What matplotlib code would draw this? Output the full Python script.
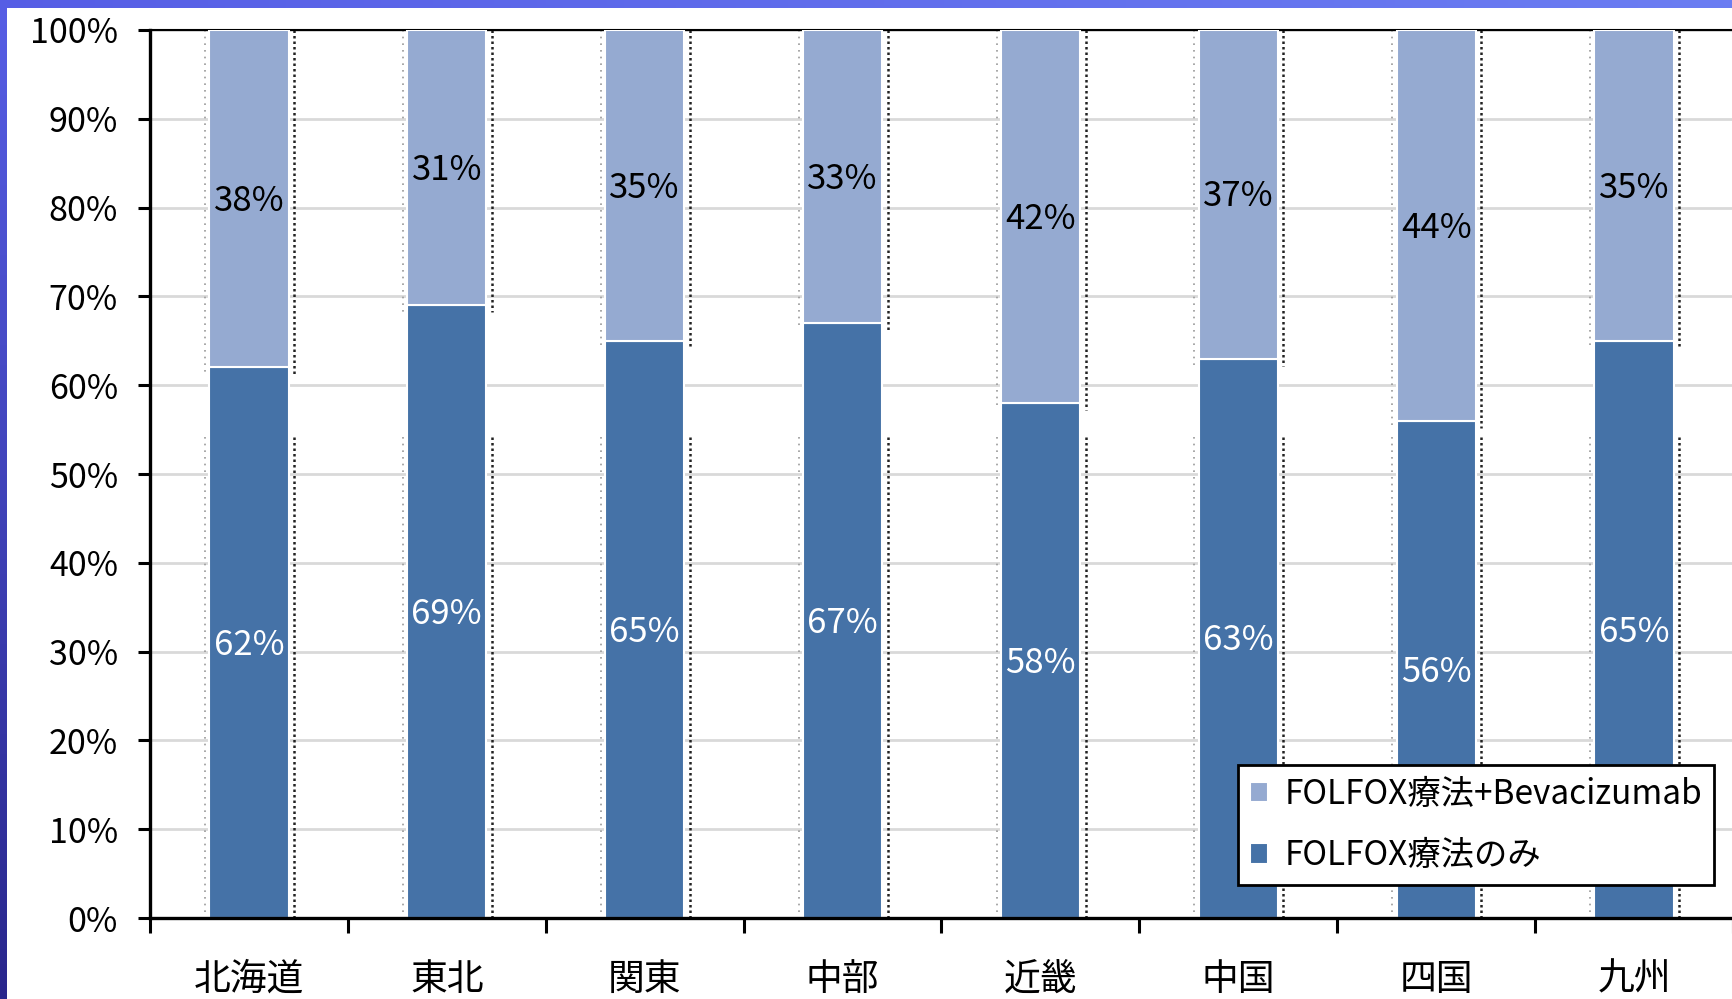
import numpy as np
import matplotlib
matplotlib.use("Agg")
import matplotlib.pyplot as plt
from matplotlib.patches import Rectangle

plt.rcParams['font.family'] = ['Noto Sans CJK JP', 'DejaVu Sans']

regions = ['北海道', '東北', '関東', '中部', '近畿', '中国', '四国', '九州']
folfox_only = [62, 69, 65, 67, 58, 63, 56, 65]
folfox_bev = [38, 31, 35, 33, 42, 37, 44, 35]
series_names = ['FOLFOX療法+Bevacizumab', 'FOLFOX療法のみ']
ytick_values = [0, 10, 20, 30, 40, 50, 60, 70, 80, 90, 100]

dark_blue = '#4572A7'
light_blue = '#95AAD1'

W, H = 1733, 999
fig = plt.figure(figsize=(W / 100, H / 100), dpi=100)

# Slide background: blue gradient frame with a white panel
bg = fig.add_axes([0, 0, 1, 1], zorder=-10)
bg.set_axis_off()
gy = np.linspace(0, 1, 200)[:, None]
gx = np.linspace(0, 1, 200)[None, :]
r = 0.16 + 0.18 * gy + 0.08 * gx
g = 0.15 + 0.22 * gy + 0.12 * gx
b = 0.55 + 0.35 * gy + 0.05 * gx
grad = np.dstack([r, g, np.clip(b, 0, 1)])
bg.imshow(grad, extent=[0, 1, 0, 1], origin='lower', aspect='auto')
bg.add_patch(Rectangle((7 / W, 0), 1, 1 - 8 / H, transform=bg.transAxes,
                       facecolor='white', edgecolor='none'))
bg.set_xlim(0, 1)
bg.set_ylim(0, 1)

ax = fig.add_axes([150 / W, 81 / H, 1 - 150 / W, (918 - 30) / H])
ax.patch.set_alpha(0)

x = np.arange(len(regions))
bw = 0.4
bars_low = ax.bar(x, folfox_only, width=bw, color=dark_blue,
                  edgecolor='white', linewidth=1.5, zorder=3,
                  label=series_names[1])
bars_high = ax.bar(x, folfox_bev, bottom=folfox_only, width=bw, color=light_blue,
                   edgecolor='white', linewidth=1.5, zorder=3,
                   label=series_names[0])

# Dotted guide edges beside each bar
for xi, lo in zip(x, folfox_only):
    for dx, col, lw, ls in [(-bw / 2 - 0.022, '#9a9a9a', 1.2, (0, (1, 3))),
                            (bw / 2 + 0.028, '#222222', 1.8, (0, (1, 1.2)))]:
        ax.plot([xi + dx, xi + dx], [100, lo - 0.8], color=col, lw=lw,
                linestyle=ls, zorder=2)
        ax.plot([xi + dx, xi + dx], [54.2, 0], color=col, lw=lw,
                linestyle=ls, zorder=2)

# Value labels centred in each segment
for xi, lo, hi in zip(x, folfox_only, folfox_bev):
    ax.text(xi, lo / 2 - 0.3, f'{lo}%', ha='center', va='center',
            color='white', fontsize=25, zorder=5)
    ax.text(xi, lo + hi / 2 - 0.3, f'{hi}%', ha='center', va='center',
            color='black', fontsize=25, zorder=5)

ax.set_xlim(-0.5, len(regions) - 0.5)
ax.set_ylim(0, 100)

ax.set_yticks(ytick_values)
ax.set_yticklabels([f'{v}%' for v in ytick_values])
ax.yaxis.grid(True, color='#D9D9D9', linewidth=2, zorder=0)
ax.set_axisbelow(True)

ax.set_xticks(x)
ax.set_xticklabels(regions)
ax.set_xticks(np.arange(-0.5, len(regions)), minor=True)
ax.tick_params(axis='x', which='major', length=0, pad=30, labelsize=26.5)
ax.tick_params(axis='x', which='minor', length=11, width=2.2, direction='out')
ax.tick_params(axis='y', which='major', length=9, width=2.2, direction='out',
               pad=14, labelsize=24.5)

for side in ['left', 'bottom']:
    ax.spines[side].set_linewidth(2.4)
    ax.spines[side].set_color('black')
    ax.spines[side].set_zorder(6)
ax.spines['right'].set_visible(False)
ax.spines['top'].set_linewidth(1.5)
ax.spines['top'].set_color('black')

leg = ax.legend(handles=[bars_high, bars_low], labels=series_names,
                loc='upper left', bbox_to_anchor=(1238 / W, 1 - 765 / H),
                bbox_transform=fig.transFigure, fontsize=24,
                frameon=True, fancybox=False, framealpha=1,
                edgecolor='black', handlelength=0.55, handleheight=0.55,
                handletextpad=0.5, borderpad=0.35, labelspacing=0.8,
                borderaxespad=0)
leg.get_frame().set_linewidth(2)
leg.set_zorder(10)

fig.savefig('out.png', dpi=100)
